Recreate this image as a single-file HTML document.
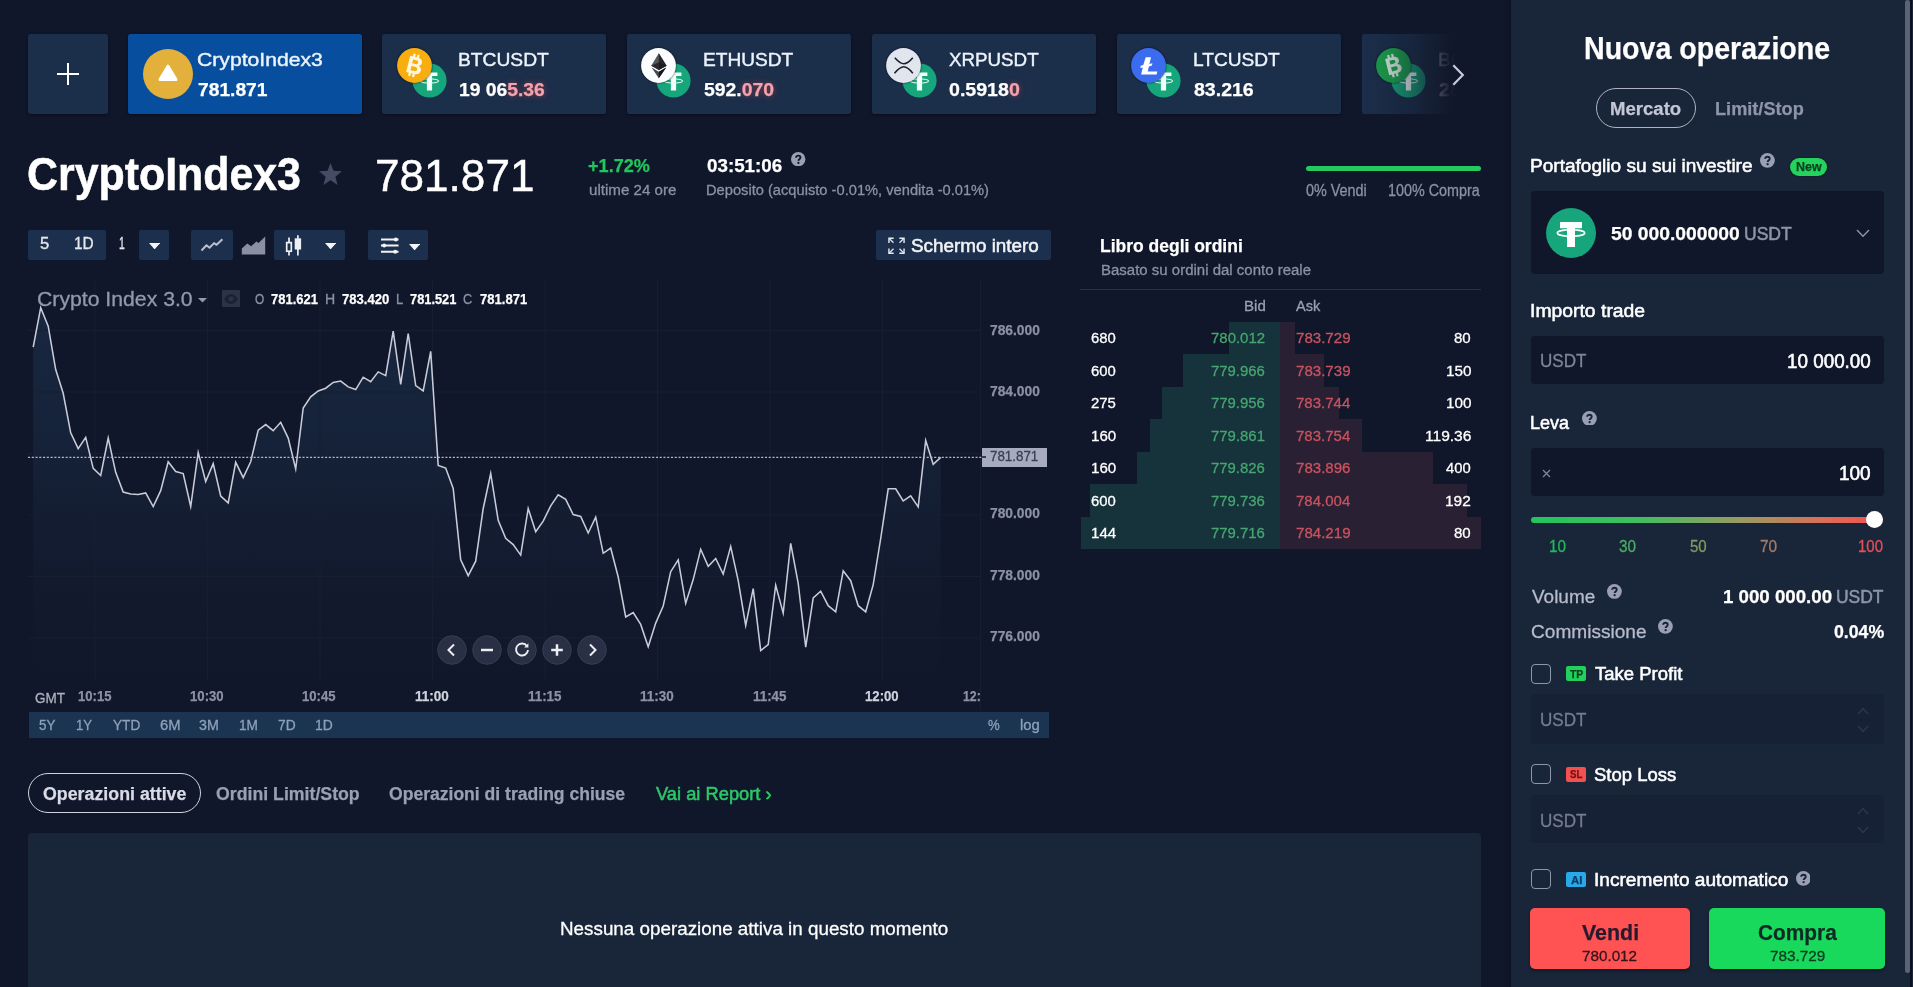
<!DOCTYPE html>
<html><head><meta charset="utf-8"><title>Trading</title><style>html,body{margin:0;padding:0;background:#11172a;overflow:hidden}
#p{position:relative;width:1913px;height:987px;overflow:hidden;background:#11172a;font-family:"Liberation Sans",sans-serif}
.t{position:absolute;white-space:pre;line-height:1;transform-origin:0 0}
.r{position:absolute;display:block}
</style></head><body><div id="p">
<div class="r" style="left:28px;top:34px;width:80px;height:80.2px;background:#1b2e4a;border-radius:2.5px;box-shadow:0 1px 3px rgba(0,4,18,.55);"></div>
<div class="r" style="left:56.5px;top:72.75px;width:22px;height:2px;background:#fff;border-radius:0px;"></div>
<div class="r" style="left:66.5px;top:62.75px;width:2px;height:22px;background:#fff;border-radius:0px;"></div>
<div class="r" style="left:128px;top:34px;width:233.5px;height:80.2px;background:#074f9e;border-radius:2.5px;box-shadow:0 1px 3px rgba(0,4,18,.55);"></div>
<svg class="r" style="left:142.5px;top:48.75px" width="50" height="50" viewBox="0 0 50 50"><circle cx="25" cy="25" r="25" fill="#e4b03c"/><path d="M25 17.2L33 30.6H17z" fill="#fff" stroke="#fff" stroke-width="3" stroke-linejoin="round"/></svg>
<span class="t" style="left:197.29px;top:50.00px;font-size:19.0px;font-weight:400;color:#edf3fb;transform:scaleX(1.1129);-webkit-text-stroke:0.42px;">CryptoIndex3</span>
<span class="t" style="left:197.78px;top:81.00px;font-size:18.8px;font-weight:700;color:#fff;transform:scaleX(1.0234);-webkit-text-stroke:0.25px;">781.871</span>
<div class="r" style="left:382px;top:34px;width:224px;height:80.2px;background:#1b2e4a;border-radius:2.5px;box-shadow:0 1px 3px rgba(0,4,18,.55);"></div>
<svg class="r" style="left:411.75px;top:62.5px;opacity:1" width="35.0" height="35.0" viewBox="0 0 35 35"><circle cx="17.5" cy="17.5" r="17.1" fill="#17a67b"/><path d="M9.6 9.6h15.8v3.5h-5.3v14.400h-5.200V13.100H9.600z" fill="#f4fffb"/><ellipse cx="17.5" cy="18" rx="9.300" ry="2.100" fill="none" stroke="#e9fff7" stroke-width="1"/></svg>
<svg class="r" style="left:397.0px;top:47.5px;opacity:1;filter:drop-shadow(0 0 1.2px rgba(5,10,20,.8))" width="35.0" height="35.0" viewBox="0 0 35 35"><circle cx="17.5" cy="17.5" r="17.4" fill="#f8ad10"/><g transform="rotate(14 17.5 17.5) translate(17.5 17.5) scale(1.17) translate(-17.8 -16.8)" fill="#fff6dc"><path d="M12.2 9.6h6.6c2.9 0 4.6 1.4 4.6 3.6 0 1.5-.8 2.6-2.1 3.1 1.7.4 2.8 1.7 2.8 3.5 0 2.6-2 4.2-5.2 4.2h-6.7zM15.4 12.1v3.3h2.8c1.3 0 2-.6 2-1.7s-.7-1.6-2-1.6zM15.4 17.8v3.7h3.2c1.4 0 2.2-.7 2.2-1.9s-.8-1.8-2.2-1.8z"/><rect x="14.6" y="7" width="1.9" height="3.2"/><rect x="18" y="7" width="1.9" height="3.2"/><rect x="14.6" y="23.4" width="1.9" height="3.2"/><rect x="18" y="23.4" width="1.9" height="3.2"/></g></svg>
<span class="t" style="left:458.31px;top:50.00px;font-size:19.0px;font-weight:400;color:#edf3fb;transform:scaleX(1.0116);-webkit-text-stroke:0.42px;">BTCUSDT</span>
<span class="t" style="left:458.89px;top:81.00px;font-size:18.8px;font-weight:700;color:#fff;transform:scaleX(1.0266);-webkit-text-stroke:0.25px;">19 06<span style="color:#f4a3ac;text-shadow:0 0 6px rgba(240,80,90,.55);">5.36</span></span>
<div class="r" style="left:626.75px;top:34px;width:224.25px;height:80.2px;background:#1b2e4a;border-radius:2.5px;box-shadow:0 1px 3px rgba(0,4,18,.55);"></div>
<svg class="r" style="left:656.25px;top:62.5px;opacity:1" width="35.0" height="35.0" viewBox="0 0 35 35"><circle cx="17.5" cy="17.5" r="17.1" fill="#17a67b"/><path d="M9.6 9.6h15.8v3.5h-5.3v14.400h-5.200V13.100H9.600z" fill="#f4fffb"/><ellipse cx="17.5" cy="18" rx="9.300" ry="2.100" fill="none" stroke="#e9fff7" stroke-width="1"/></svg>
<svg class="r" style="left:641.25px;top:47.5px;filter:drop-shadow(0 0 1.2px rgba(5,10,20,.8))" width="35.0" height="35.0" viewBox="0 0 35 35"><circle cx="17.5" cy="17.5" r="17.4" fill="#fbfcfd"/><path d="M17.8 5.2L10.2 17.7l7.600 4.300 7.800-4.300z" fill="#55565a"/><path d="M17.800 5.200v16.800l7.800-4.300z" fill="#26272b"/><path d="M17.800 14.200l-7.600 3.500 7.600 4.300 7.800-4.300z" fill="#1b1b1f" opacity=".75"/><path d="M10.600 19.600l7.200 10.700 7.400-10.700-7.400 4.200z" fill="#4a4b50"/><path d="M17.800 30.300V23.800l7.400-4.200z" fill="#17171b"/></svg>
<span class="t" style="left:703.07px;top:50.00px;font-size:19.0px;font-weight:400;color:#edf3fb;transform:scaleX(1.0059);-webkit-text-stroke:0.42px;">ETHUSDT</span>
<span class="t" style="left:704.22px;top:81.00px;font-size:18.8px;font-weight:700;color:#fff;transform:scaleX(1.0323);-webkit-text-stroke:0.25px;">592.<span style="color:#f4a3ac;text-shadow:0 0 6px rgba(240,80,90,.55);">070</span></span>
<div class="r" style="left:872px;top:34px;width:224px;height:80.2px;background:#1b2e4a;border-radius:2.5px;box-shadow:0 1px 3px rgba(0,4,18,.55);"></div>
<svg class="r" style="left:901.75px;top:62.5px;opacity:1" width="35.0" height="35.0" viewBox="0 0 35 35"><circle cx="17.5" cy="17.5" r="17.1" fill="#17a67b"/><path d="M9.6 9.6h15.8v3.5h-5.3v14.400h-5.200V13.100H9.600z" fill="#f4fffb"/><ellipse cx="17.5" cy="18" rx="9.300" ry="2.100" fill="none" stroke="#e9fff7" stroke-width="1"/></svg>
<svg class="r" style="left:886.25px;top:47.5px;filter:drop-shadow(0 0 1.2px rgba(5,10,20,.8))" width="35.0" height="35.0" viewBox="0 0 35 35"><circle cx="17.5" cy="17.5" r="17.400" fill="#e1e5ed"/><path d="M8.800 9.800c3.400 3.800 5.800 6 9 6s5.800-2.200 9-6M8.500 25.200c3.400-4 6-6.400 9.300-6.400s5.800 2.400 9 6.400" fill="none" stroke="#1a1f2c" stroke-width="1.600"/></svg>
<span class="t" style="left:949.38px;top:50.00px;font-size:19.0px;font-weight:400;color:#edf3fb;transform:scaleX(0.9871);-webkit-text-stroke:0.42px;">XRPUSDT</span>
<span class="t" style="left:949.27px;top:81.00px;font-size:18.8px;font-weight:700;color:#fff;transform:scaleX(1.0428);-webkit-text-stroke:0.25px;">0.5918<span style="color:#f4a3ac;text-shadow:0 0 6px rgba(240,80,90,.55);">0</span></span>
<div class="r" style="left:1117px;top:34px;width:224.25px;height:80.2px;background:#1b2e4a;border-radius:2.5px;box-shadow:0 1px 3px rgba(0,4,18,.55);"></div>
<svg class="r" style="left:1146.25px;top:62.5px;opacity:1" width="35.0" height="35.0" viewBox="0 0 35 35"><circle cx="17.5" cy="17.5" r="17.1" fill="#17a67b"/><path d="M9.6 9.6h15.8v3.5h-5.3v14.400h-5.200V13.100H9.600z" fill="#f4fffb"/><ellipse cx="17.5" cy="18" rx="9.300" ry="2.100" fill="none" stroke="#e9fff7" stroke-width="1"/></svg>
<svg class="r" style="left:1131.25px;top:47.5px;filter:drop-shadow(0 0 1.2px rgba(5,10,20,.8))" width="35.0" height="35.0" viewBox="0 0 35 35"><circle cx="17.5" cy="17.500" r="17.400" fill="#3b6cf0"/><path d="M14.700 9.200h5.300l-1.600 6.900 3-.8-.5 2.300-3 .800-1.200 5h9.600l-.7 3.200H10.100l1.700-7.200-2.500.7.500-2.300 2.500-.7z" fill="#fff"/></svg>
<span class="t" style="left:1193.32px;top:50.00px;font-size:19.0px;font-weight:400;color:#edf3fb;transform:scaleX(1.0063);-webkit-text-stroke:0.42px;">LTCUSDT</span>
<span class="t" style="left:1194.46px;top:81.00px;font-size:18.8px;font-weight:700;color:#fff;transform:scaleX(1.0399);-webkit-text-stroke:0.25px;">83.216</span>
<div class="r" style="left:1361.5px;top:34px;width:120px;height:80.2px;background:#1b2e4a;border-radius:2.5px;"></div>
<svg class="r" style="left:1391.25px;top:62.5px;opacity:1" width="35.0" height="35.0" viewBox="0 0 35 35"><circle cx="17.5" cy="17.5" r="17.1" fill="#17a67b"/><path d="M9.6 9.6h15.8v3.5h-5.3v14.400h-5.200V13.100H9.600z" fill="#f4fffb"/><ellipse cx="17.5" cy="18" rx="9.300" ry="2.100" fill="none" stroke="#e9fff7" stroke-width="1"/></svg>
<svg class="r" style="left:1376.25px;top:47.5px;opacity:1;filter:drop-shadow(0 0 1.2px rgba(5,10,20,.8))" width="35.0" height="35.0" viewBox="0 0 35 35"><circle cx="17.5" cy="17.5" r="17.4" fill="#1ba34d"/><g transform="rotate(-14 17.5 17.5) translate(17.5 17.5) scale(1.17) translate(-17.8 -16.8)" fill="#d9efe0"><path d="M12.2 9.6h6.6c2.9 0 4.6 1.4 4.6 3.6 0 1.5-.8 2.6-2.1 3.1 1.7.4 2.8 1.7 2.8 3.5 0 2.6-2 4.2-5.2 4.2h-6.7zM15.4 12.1v3.3h2.8c1.3 0 2-.6 2-1.7s-.7-1.6-2-1.6zM15.4 17.8v3.7h3.2c1.4 0 2.2-.7 2.2-1.9s-.8-1.8-2.2-1.8z"/><rect x="14.6" y="7" width="1.9" height="3.2"/><rect x="18" y="7" width="1.9" height="3.2"/><rect x="14.6" y="23.4" width="1.9" height="3.2"/><rect x="18" y="23.4" width="1.9" height="3.2"/></g></svg>
<span class="t" style="left:1438.06px;top:50.00px;font-size:19.0px;font-weight:400;color:#eef0f5;transform:scaleX(1.0148);-webkit-text-stroke:0.3px;">BCHUSDT</span>
<span class="t" style="left:1438.91px;top:81.00px;font-size:18.8px;font-weight:700;color:#fff;transform:scaleX(1.0445);-webkit-text-stroke:0.25px;">284.54</span>
<div class="r" style="left:1361px;top:30px;width:150px;height:90px;background:linear-gradient(90deg,rgba(17,23,42,0) 0,rgba(17,23,42,.2) 30px,rgba(17,23,42,.45) 55px,rgba(17,23,42,.76) 76px,rgba(17,23,42,.97) 89px,#11172a 97px);border-radius:0px;"></div>
<svg class="r" style="left:1450px;top:62.5px" width="16" height="24" viewBox="0 0 16 24"><path d="M3.300 2.300l9.500 9.700-9.500 9.700" fill="none" stroke="#c6cadc" stroke-width="2.200"/></svg>
<span class="t" style="left:27.24px;top:151.00px;font-size:46.5px;font-weight:700;color:#fff;transform:scaleX(0.9219);-webkit-text-stroke:0.55px #fff;">CryptoIndex3</span>
<svg class="r" style="left:319px;top:162.5px" width="23" height="22" viewBox="0 0 24 23"><path d="M12 0l3.1 8.2 8.9.5-6.9 5.6 2.3 8.7L12 18.1 4.6 23l2.3-8.7L0 8.7l8.9-.5z" fill="#454b62"/></svg>
<span class="t" style="left:375.14px;top:154.00px;font-size:44.5px;font-weight:400;color:#fff;transform:scaleX(0.9914);-webkit-text-stroke:0.45px #fff;">781.871</span>
<span class="t" style="left:588.38px;top:157.00px;font-size:18.8px;font-weight:700;color:#22c65e;transform:scaleX(0.9639);-webkit-text-stroke:0.25px;">+1.72%</span>
<span class="t" style="left:588.62px;top:182.00px;font-size:15.5px;font-weight:400;color:#8b91a6;transform:scaleX(0.9763);-webkit-text-stroke:0.3px;">ultime 24 ore</span>
<span class="t" style="left:706.60px;top:157.00px;font-size:18.8px;font-weight:700;color:#fff;transform:scaleX(1.0001);-webkit-text-stroke:0.25px;">03:51:06</span>
<svg class="r" style="left:791.3px;top:152.05px" width="14.4" height="14.4" viewBox="0 0 16 16"><circle cx="8" cy="8" r="8" fill="#999fb4"/><path d="M5.6 6.3c0-1.4 1.1-2.3 2.5-2.3s2.4.9 2.4 2.1c0 1.9-2.2 1.9-2.2 3.6" fill="none" stroke="#11172a" stroke-width="2.1"/><circle cx="8.250" cy="12.100" r="1.250" fill="#11172a"/></svg>
<span class="t" style="left:706.18px;top:182.00px;font-size:15.5px;font-weight:400;color:#8b91a6;transform:scaleX(0.9466);-webkit-text-stroke:0.3px;">Deposito (acquisto -0.01%, vendita -0.01%)</span>
<div class="r" style="left:1305.75px;top:165.75px;width:175px;height:5.5px;background:#25c95f;border-radius:3px;"></div>
<span class="t" style="left:1306.02px;top:183.00px;font-size:15.8px;font-weight:400;color:#8b91a6;transform:scaleX(0.9110);-webkit-text-stroke:0.3px;">0% Vendi</span>
<span class="t" style="left:1388.02px;top:183.00px;font-size:15.8px;font-weight:400;color:#8b91a6;transform:scaleX(0.9075);-webkit-text-stroke:0.3px;">100% Compra</span>
<div class="r" style="left:28px;top:230px;width:78.3px;height:29.5px;background:#1c304d;border-radius:2px;"></div>
<span class="t" style="left:39.68px;top:236.00px;font-size:15.6px;font-weight:400;color:#e6e8ef;transform:scaleX(1.0661);-webkit-text-stroke:0.3px;">5</span>
<span class="t" style="left:73.69px;top:236.00px;font-size:15.6px;font-weight:400;color:#e6e8ef;transform:scaleX(0.9879);-webkit-text-stroke:0.3px;">1D</span>
<span class="t" style="left:118.97px;top:236.00px;font-size:15.6px;font-weight:400;color:#e6e8ef;transform:scaleX(0.6631);-webkit-text-stroke:0.3px;">1</span>
<div class="r" style="left:138.75px;top:230px;width:30.5px;height:29.5px;background:#1c304d;border-radius:2px;"></div>
<svg class="r" style="left:148.8px;top:242.5px" width="11.2" height="6.4" viewBox="0 0 11.2 6.4"><path d="M0 0h11.2L5.6 6.4z" fill="#f4f5f9"/></svg>
<div class="r" style="left:190.75px;top:230px;width:42.3px;height:29.5px;background:#1c304d;border-radius:2px;"></div>
<svg class="r" style="left:200px;top:236px" width="24" height="18" viewBox="0 0 24 18"><path d="M1.5 14.5l5-5.2 3 2.4 4.5-4.6 2.6 1.7 5.8-5.6" fill="none" stroke="#b9bece" stroke-width="2" stroke-linejoin="round"/></svg>
<svg class="r" style="left:241px;top:235px" width="25" height="20" viewBox="0 0 25 20"><path d="M.8 19.5V13.6l5.6-5 3.6 2.6 5.4-4.6 2.2 1.4 6.6-6.4v17.9z" fill="#8a8fa3"/></svg>
<div class="r" style="left:273.75px;top:230px;width:70.8px;height:29.5px;background:#1c304d;border-radius:2px;"></div>
<svg class="r" style="left:285.4px;top:234.8px" width="18" height="21" viewBox="0 0 18 21"><g fill="none" stroke="#eef0f5" stroke-width="1.7"><path d="M4 2.400v5M4 16.200v4.400M12.900 .3v3.400M12.900 14v6.500"/><rect x="1.700" y="7.600" width="4.600" height="8.600"/></g><rect x="9.700" y="3.300" width="6.400" height="11.200" fill="#eef0f5"/></svg>
<svg class="r" style="left:324.9px;top:242.8px" width="11.2" height="6.4" viewBox="0 0 11.2 6.4"><path d="M0 0h11.2L5.6 6.4z" fill="#f4f5f9"/></svg>
<div class="r" style="left:367.5px;top:230px;width:60.3px;height:29.5px;background:#1c304d;border-radius:2px;"></div>
<svg class="r" style="left:380px;top:235.5px" width="20" height="19" viewBox="0 0 20 19"><g stroke="#f2f3f7" stroke-width="2" fill="none"><path d="M1 3.500h17.500M1 9.600h17.500M1 15.700h17.500"/></g><g fill="#f2f3f7"><circle cx="15.800" cy="3.500" r="2"/><circle cx="4.200" cy="9.600" r="2"/><circle cx="15.200" cy="15.700" r="2"/></g></svg>
<svg class="r" style="left:408.79999999999995px;top:243.8px" width="11.2" height="6.4" viewBox="0 0 11.2 6.4"><path d="M0 0h11.2L5.6 6.4z" fill="#f4f5f9"/></svg>
<div class="r" style="left:876.25px;top:230px;width:174.5px;height:29.5px;background:#1c304d;border-radius:2px;"></div>
<svg class="r" style="left:887.7px;top:237.3px" width="17" height="17.500" viewBox="0 0 18 18"><g fill="none" stroke="#e6e8ef" stroke-width="1.5"><path d="M1 6V1h5M12 1h5v5M17 12v5h-5M6 17H1v-5"/><path d="M1.6 1.6l4.2 4.2M16.4 1.6l-4.2 4.2M16.4 16.4l-4.2-4.2M1.6 16.4l4.2-4.2" stroke-width="1.3"/></g></svg>
<span class="t" style="left:911.25px;top:237.00px;font-size:18.9px;font-weight:400;color:#f2f3f7;transform:scaleX(0.9981);-webkit-text-stroke:0.55px;">Schermo intero</span>
<svg class="r" style="left:0;top:0" width="1060" height="720" viewBox="0 0 1060 720"><defs><linearGradient id="ag" gradientUnits="userSpaceOnUse" x1="0" y1="307" x2="0" y2="686"><stop offset="0" stop-color="#1d3552" stop-opacity=".55"/><stop offset=".25" stop-color="#1d3552" stop-opacity=".43"/><stop offset=".4" stop-color="#1d3552" stop-opacity=".33"/><stop offset=".56" stop-color="#1d3552" stop-opacity=".2"/><stop offset=".72" stop-color="#1d3552" stop-opacity=".1"/><stop offset=".88" stop-color="#1d3552" stop-opacity=".04"/><stop offset="1" stop-color="#1d3552" stop-opacity="0"/></linearGradient></defs><path d="M33.2,686 L33.2,347.2 L40.7,307.7 L48.2,326.1 L55.7,369.6 L63.2,393.3 L70.7,432.8 L78.2,448.6 L85.7,437.3 L93.2,468.4 L100.7,475.5 L108.2,438.0 L115.7,472.3 L123.2,492.0 L130.7,493.9 L138.2,494.4 L145.7,492.9 L153.2,506.5 L160.7,490.7 L168.2,461.8 L175.7,471.5 L183.2,473.6 L190.7,506.5 L198.2,452.5 L205.7,481.5 L213.2,463.6 L220.7,496.0 L228.2,502.9 L235.7,462.3 L243.2,477.6 L250.7,461.8 L258.2,430.2 L265.7,424.6 L273.2,430.7 L280.7,422.3 L288.2,438.1 L295.7,469.0 L303.2,408.0 L310.7,396.9 L318.2,390.9 L325.7,388.2 L333.2,382.5 L340.7,381.1 L348.2,386.9 L355.7,389.6 L363.2,377.2 L370.7,381.7 L378.2,371.9 L385.7,375.6 L393.2,331.1 L400.7,384.3 L408.2,333.5 L415.7,385.6 L423.2,390.9 L430.7,351.4 L438.2,465.4 L445.7,468.1 L453.2,488.4 L460.7,559.9 L468.2,575.7 L475.7,561.2 L483.2,508.5 L490.7,473.5 L498.2,520.3 L505.7,538.3 L513.2,544.6 L520.7,555.1 L528.2,508.5 L535.7,531.7 L543.2,521.1 L550.7,505.9 L558.2,494.8 L565.7,499.3 L573.2,514.6 L580.7,516.4 L588.2,533.0 L595.7,517.2 L603.2,553.3 L610.7,548.0 L618.2,577.0 L625.7,617.0 L633.2,612.6 L640.7,624.4 L648.2,646.8 L655.7,623.1 L663.2,606.0 L670.7,571.7 L678.2,559.9 L685.7,603.3 L693.2,579.6 L700.7,549.3 L708.2,566.4 L715.7,558.5 L723.2,574.1 L730.7,546.4 L738.2,580.7 L745.7,625.5 L753.2,588.6 L760.7,650.5 L768.2,644.7 L775.7,585.2 L783.2,613.1 L790.7,543.3 L798.2,583.3 L805.7,647.1 L813.2,597.8 L820.7,591.2 L828.2,605.7 L835.7,611.8 L843.2,570.9 L850.7,580.7 L858.2,605.7 L865.7,611.8 L873.2,584.6 L880.7,538.5 L888.2,488.8 L895.7,488.8 L903.2,500.9 L910.7,495.9 L918.2,506.9 L925.7,440.5 L933.2,464.3 L940.7,457.4 L940.7,686 Z" fill="url(#ag)"/><path d="M95 280V681" stroke="#171e33" stroke-width="1"/><path d="M207.5 280V681" stroke="#171e33" stroke-width="1"/><path d="M320 280V681" stroke="#171e33" stroke-width="1"/><path d="M432.5 280V681" stroke="#171e33" stroke-width="1"/><path d="M545 280V681" stroke="#171e33" stroke-width="1"/><path d="M657.5 280V681" stroke="#171e33" stroke-width="1"/><path d="M770 280V681" stroke="#171e33" stroke-width="1"/><path d="M882.5 280V681" stroke="#171e33" stroke-width="1"/><path d="M28 330.5H980" stroke="#171e33" stroke-width="1"/><path d="M28 392H980" stroke="#171e33" stroke-width="1"/><path d="M28 453.5H980" stroke="#171e33" stroke-width="1"/><path d="M28 515H980" stroke="#171e33" stroke-width="1"/><path d="M28 576.5H980" stroke="#171e33" stroke-width="1"/><path d="M28 638H980" stroke="#171e33" stroke-width="1"/><path d="M980.5 280V710" stroke="#171e33" stroke-width="1"/><polyline points="33.2,347.2 40.7,307.7 48.2,326.1 55.7,369.6 63.2,393.3 70.7,432.8 78.2,448.6 85.7,437.3 93.2,468.4 100.7,475.5 108.2,438.0 115.7,472.3 123.2,492.0 130.7,493.9 138.2,494.4 145.7,492.9 153.2,506.5 160.7,490.7 168.2,461.8 175.7,471.5 183.2,473.6 190.7,506.5 198.2,452.5 205.7,481.5 213.2,463.6 220.7,496.0 228.2,502.9 235.7,462.3 243.2,477.6 250.7,461.8 258.2,430.2 265.7,424.6 273.2,430.7 280.7,422.3 288.2,438.1 295.7,469.0 303.2,408.0 310.7,396.9 318.2,390.9 325.7,388.2 333.2,382.5 340.7,381.1 348.2,386.9 355.7,389.6 363.2,377.2 370.7,381.7 378.2,371.9 385.7,375.6 393.2,331.1 400.7,384.3 408.2,333.5 415.7,385.6 423.2,390.9 430.7,351.4 438.2,465.4 445.7,468.1 453.2,488.4 460.7,559.9 468.2,575.7 475.7,561.2 483.2,508.5 490.7,473.5 498.2,520.3 505.7,538.3 513.2,544.6 520.7,555.1 528.2,508.5 535.7,531.7 543.2,521.1 550.7,505.9 558.2,494.8 565.7,499.3 573.2,514.6 580.7,516.4 588.2,533.0 595.7,517.2 603.2,553.3 610.7,548.0 618.2,577.0 625.7,617.0 633.2,612.6 640.7,624.4 648.2,646.8 655.7,623.1 663.2,606.0 670.7,571.7 678.2,559.9 685.7,603.3 693.2,579.6 700.7,549.3 708.2,566.4 715.7,558.5 723.2,574.1 730.7,546.4 738.2,580.7 745.7,625.5 753.2,588.6 760.7,650.5 768.2,644.7 775.7,585.2 783.2,613.1 790.7,543.3 798.2,583.3 805.7,647.1 813.2,597.8 820.7,591.2 828.2,605.7 835.7,611.8 843.2,570.9 850.7,580.7 858.2,605.7 865.7,611.8 873.2,584.6 880.7,538.5 888.2,488.8 895.7,488.8 903.2,500.9 910.7,495.9 918.2,506.9 925.7,440.5 933.2,464.3 940.7,457.4" fill="none" stroke="#c8ccd8" stroke-width="1.55" stroke-linejoin="miter" stroke-miterlimit="6"/><path d="M28 457.3H986" stroke="#b2b6c6" stroke-width="1.3" stroke-dasharray="2.1 1.66"/></svg>
<span class="t" style="left:37.29px;top:289.00px;font-size:20.6px;font-weight:400;color:#9399ad;transform:scaleX(1.0298);-webkit-text-stroke:0.3px;">Crypto Index 3.0</span>
<svg class="r" style="left:198.0px;top:298.35px" width="9" height="4.5" viewBox="0 0 9 4.5"><path d="M0 0h9L4.5 4.5z" fill="#9399ad"/></svg>
<div class="r" style="left:221.75px;top:290px;width:18.3px;height:17px;background:#2b3348;border-radius:1px;"></div>
<svg class="r" style="left:224px;top:293.5px" width="14" height="10" viewBox="0 0 14 10"><path d="M0 5C2 1.6 4.4 0 7 0s5 1.6 7 5c-2 3.4-4.400 5-7 5S2 8.400 0 5z" fill="#1b2236"/><circle cx="7" cy="5" r="2.4" fill="#2b3348"/></svg>
<span class="t" style="left:254.82px;top:292.00px;font-size:14.3px;font-weight:400;color:#8b91a6;transform:scaleX(0.8269);-webkit-text-stroke:0.3px;">O</span>
<span class="t" style="left:271.08px;top:292.00px;font-size:14.3px;font-weight:700;color:#fff;transform:scaleX(0.9071);-webkit-text-stroke:0.25px;">781.621</span>
<span class="t" style="left:324.97px;top:292.00px;font-size:14.3px;font-weight:400;color:#8b91a6;transform:scaleX(0.9865);-webkit-text-stroke:0.3px;">H</span>
<span class="t" style="left:341.58px;top:292.00px;font-size:14.3px;font-weight:700;color:#fff;transform:scaleX(0.9159);-webkit-text-stroke:0.25px;">783.420</span>
<span class="t" style="left:395.56px;top:292.00px;font-size:14.3px;font-weight:400;color:#8b91a6;transform:scaleX(0.9114);-webkit-text-stroke:0.3px;">L</span>
<span class="t" style="left:409.84px;top:292.00px;font-size:14.3px;font-weight:700;color:#fff;transform:scaleX(0.8973);-webkit-text-stroke:0.25px;">781.521</span>
<span class="t" style="left:463.46px;top:292.00px;font-size:14.3px;font-weight:400;color:#8b91a6;transform:scaleX(0.8920);-webkit-text-stroke:0.3px;">C</span>
<span class="t" style="left:479.83px;top:292.00px;font-size:14.3px;font-weight:700;color:#fff;transform:scaleX(0.9120);-webkit-text-stroke:0.25px;">781.871</span>
<span class="t" style="left:989.80px;top:323.00px;font-size:14.3px;font-weight:700;color:#8c91a4;transform:scaleX(0.9654);-webkit-text-stroke:0.25px;">786.000</span>
<span class="t" style="left:989.80px;top:384.00px;font-size:14.3px;font-weight:700;color:#8c91a4;transform:scaleX(0.9654);-webkit-text-stroke:0.25px;">784.000</span>
<span class="t" style="left:989.80px;top:506.00px;font-size:14.3px;font-weight:700;color:#8c91a4;transform:scaleX(0.9654);-webkit-text-stroke:0.25px;">780.000</span>
<span class="t" style="left:989.80px;top:568.00px;font-size:14.3px;font-weight:700;color:#8c91a4;transform:scaleX(0.9654);-webkit-text-stroke:0.25px;">778.000</span>
<span class="t" style="left:989.80px;top:629.00px;font-size:14.3px;font-weight:700;color:#8c91a4;transform:scaleX(0.9654);-webkit-text-stroke:0.25px;">776.000</span>
<div class="r" style="left:982.4px;top:448px;width:64.3px;height:19.3px;background:#a6abc0;border-radius:0px;"></div>
<div class="r" style="left:982.4px;top:456.4px;width:3.5px;height:1.2px;background:#3a3f53;border-radius:0px;"></div>
<span class="t" style="left:990.38px;top:449.00px;font-size:14.3px;font-weight:400;color:#3a3f53;transform:scaleX(0.9337);-webkit-text-stroke:0.3px;">781.871</span>
<span class="t" style="left:35.42px;top:690.00px;font-size:15px;font-weight:400;color:#aeb2bf;transform:scaleX(0.9008);-webkit-text-stroke:0.3px;">GMT</span>
<span class="t" style="left:77.82px;top:689.00px;font-size:14.3px;font-weight:700;color:#8d92a5;transform:scaleX(0.9145);-webkit-text-stroke:0.25px;">10:15</span>
<span class="t" style="left:190.06px;top:689.00px;font-size:14.3px;font-weight:700;color:#8d92a5;transform:scaleX(0.9201);-webkit-text-stroke:0.25px;">10:30</span>
<span class="t" style="left:302.27px;top:689.00px;font-size:14.3px;font-weight:700;color:#8d92a5;transform:scaleX(0.9145);-webkit-text-stroke:0.25px;">10:45</span>
<span class="t" style="left:415.04px;top:689.00px;font-size:14.3px;font-weight:700;color:#cfd2dc;transform:scaleX(0.9411);-webkit-text-stroke:0.25px;">11:00</span>
<span class="t" style="left:527.80px;top:689.00px;font-size:14.3px;font-weight:700;color:#8d92a5;transform:scaleX(0.9353);-webkit-text-stroke:0.25px;">11:15</span>
<span class="t" style="left:640.29px;top:689.00px;font-size:14.3px;font-weight:700;color:#8d92a5;transform:scaleX(0.9411);-webkit-text-stroke:0.25px;">11:30</span>
<span class="t" style="left:752.80px;top:689.00px;font-size:14.3px;font-weight:700;color:#8d92a5;transform:scaleX(0.9353);-webkit-text-stroke:0.25px;">11:45</span>
<span class="t" style="left:865.06px;top:689.00px;font-size:14.3px;font-weight:700;color:#cfd2dc;transform:scaleX(0.9201);-webkit-text-stroke:0.25px;">12:00</span>
<span class="t" style="left:963.11px;top:689.00px;font-size:14.3px;font-weight:700;color:#8d92a5;transform:scaleX(0.8598);-webkit-text-stroke:0.25px;">12:</span>
<div class="r" style="left:29px;top:712.2px;width:1020px;height:26.2px;background:#1b3451;border-radius:0px;"></div>
<span class="t" style="left:39.31px;top:718.00px;font-size:14.2px;font-weight:400;color:#8ea0ba;transform:scaleX(0.9440);-webkit-text-stroke:0.3px;">5Y</span>
<span class="t" style="left:76.36px;top:718.00px;font-size:14.2px;font-weight:400;color:#8ea0ba;transform:scaleX(0.9264);-webkit-text-stroke:0.3px;">1Y</span>
<span class="t" style="left:113.01px;top:718.00px;font-size:14.2px;font-weight:400;color:#8ea0ba;transform:scaleX(0.9596);-webkit-text-stroke:0.3px;">YTD</span>
<span class="t" style="left:159.61px;top:718.00px;font-size:14.2px;font-weight:400;color:#8ea0ba;transform:scaleX(1.0409);-webkit-text-stroke:0.3px;">6M</span>
<span class="t" style="left:199.28px;top:718.00px;font-size:14.2px;font-weight:400;color:#8ea0ba;transform:scaleX(1.0048);-webkit-text-stroke:0.3px;">3M</span>
<span class="t" style="left:238.83px;top:718.00px;font-size:14.2px;font-weight:400;color:#8ea0ba;transform:scaleX(0.9619);-webkit-text-stroke:0.3px;">1M</span>
<span class="t" style="left:277.66px;top:718.00px;font-size:14.2px;font-weight:400;color:#8ea0ba;transform:scaleX(0.9728);-webkit-text-stroke:0.3px;">7D</span>
<span class="t" style="left:315.06px;top:718.00px;font-size:14.2px;font-weight:400;color:#8ea0ba;transform:scaleX(0.9786);-webkit-text-stroke:0.3px;">1D</span>
<span class="t" style="left:988.39px;top:718.00px;font-size:14.2px;font-weight:400;color:#8ea0ba;transform:scaleX(0.9275);-webkit-text-stroke:0.3px;">%</span>
<span class="t" style="left:1020.39px;top:718.00px;font-size:14.2px;font-weight:400;color:#8ea0ba;transform:scaleX(1.0403);-webkit-text-stroke:0.3px;">log</span>
<svg class="r" style="left:436.75px;top:635px" width="30" height="30" viewBox="0 0 30 30"><circle cx="15" cy="15" r="14.300" fill="#292f44" stroke="#363d54" stroke-width="1"/><path d="M17 9.5L11.5 15l5.500 5.500" fill="none" stroke="#eceef3" stroke-width="2"/></svg>
<svg class="r" style="left:471.75px;top:635px" width="30" height="30" viewBox="0 0 30 30"><circle cx="15" cy="15" r="14.300" fill="#292f44" stroke="#363d54" stroke-width="1"/><path d="M9 15h12" stroke="#eceef3" stroke-width="2.500"/></svg>
<svg class="r" style="left:506.75px;top:635px" width="30" height="30" viewBox="0 0 30 30"><circle cx="15" cy="15" r="14.300" fill="#292f44" stroke="#363d54" stroke-width="1"/><path d="M20 11.200A6 6 0 1 0 21 15" fill="none" stroke="#eceef3" stroke-width="1.900"/><path d="M21.400 8.300v4.200h-4.200z" fill="#eceef3"/></svg>
<svg class="r" style="left:541.75px;top:635px" width="30" height="30" viewBox="0 0 30 30"><circle cx="15" cy="15" r="14.300" fill="#292f44" stroke="#363d54" stroke-width="1"/><path d="M9.200 15h11.600M15 9.200v11.600" stroke="#eceef3" stroke-width="2.500"/></svg>
<svg class="r" style="left:576.75px;top:635px" width="30" height="30" viewBox="0 0 30 30"><circle cx="15" cy="15" r="14.300" fill="#292f44" stroke="#363d54" stroke-width="1"/><path d="M13 9.500l5.500 5.500-5.500 5.500" fill="none" stroke="#eceef3" stroke-width="2"/></svg>
<span class="t" style="left:1100.46px;top:237.00px;font-size:18.7px;font-weight:700;color:#fff;transform:scaleX(0.9354);-webkit-text-stroke:0.25px;">Libro degli ordini</span>
<span class="t" style="left:1100.55px;top:262.00px;font-size:15.4px;font-weight:400;color:#8b91a6;transform:scaleX(0.9741);-webkit-text-stroke:0.3px;">Basato su ordini dal conto reale</span>
<div class="r" style="left:1080px;top:289px;width:401px;height:1px;background:#28314a;border-radius:0px;"></div>
<span class="t" style="left:1244.14px;top:298.00px;font-size:15.2px;font-weight:400;color:#9aa0b4;transform:scaleX(0.9919);-webkit-text-stroke:0.3px;">Bid</span>
<span class="t" style="left:1296.35px;top:298.00px;font-size:15.2px;font-weight:400;color:#9aa0b4;transform:scaleX(0.9602);-webkit-text-stroke:0.3px;">Ask</span>
<div class="r" style="left:1229px;top:322px;width:51px;height:32px;background:#16323a;border-radius:0px;"></div>
<div class="r" style="left:1280px;top:322px;width:15px;height:32px;background:#2a2033;border-radius:0px;"></div>
<div class="r" style="left:1183px;top:354px;width:97px;height:33px;background:#16323a;border-radius:0px;"></div>
<div class="r" style="left:1280px;top:354px;width:44px;height:33px;background:#2a2033;border-radius:0px;"></div>
<div class="r" style="left:1162px;top:387px;width:118px;height:32px;background:#16323a;border-radius:0px;"></div>
<div class="r" style="left:1280px;top:387px;width:59px;height:32px;background:#2a2033;border-radius:0px;"></div>
<div class="r" style="left:1150px;top:419px;width:130px;height:33px;background:#16323a;border-radius:0px;"></div>
<div class="r" style="left:1280px;top:419px;width:82px;height:33px;background:#2a2033;border-radius:0px;"></div>
<div class="r" style="left:1137px;top:452px;width:143px;height:32px;background:#16323a;border-radius:0px;"></div>
<div class="r" style="left:1280px;top:452px;width:153px;height:32px;background:#2a2033;border-radius:0px;"></div>
<div class="r" style="left:1090px;top:484px;width:190px;height:33px;background:#16323a;border-radius:0px;"></div>
<div class="r" style="left:1280px;top:484px;width:187px;height:33px;background:#2a2033;border-radius:0px;"></div>
<div class="r" style="left:1081px;top:517px;width:199px;height:32px;background:#16323a;border-radius:0px;"></div>
<div class="r" style="left:1280px;top:517px;width:201px;height:32px;background:#2a2033;border-radius:0px;"></div>
<span class="t" style="left:1091.21px;top:330.00px;font-size:15.3px;font-weight:400;color:#fff;transform:scaleX(0.9721);-webkit-text-stroke:0.3px;">680</span>
<span class="t" style="left:1211.35px;top:330.00px;font-size:15.3px;font-weight:400;color:#46a571;transform:scaleX(0.9771);-webkit-text-stroke:0.3px;">780.012</span>
<span class="t" style="left:1296.30px;top:330.00px;font-size:15.3px;font-weight:400;color:#c9535f;transform:scaleX(0.9860);-webkit-text-stroke:0.3px;">783.729</span>
<span class="t" style="left:1454.27px;top:330.00px;font-size:15.3px;font-weight:400;color:#fff;transform:scaleX(0.9836);-webkit-text-stroke:0.3px;">80</span>
<span class="t" style="left:1091.21px;top:363.00px;font-size:15.3px;font-weight:400;color:#fff;transform:scaleX(0.9721);-webkit-text-stroke:0.3px;">600</span>
<span class="t" style="left:1211.35px;top:363.00px;font-size:15.3px;font-weight:400;color:#46a571;transform:scaleX(0.9744);-webkit-text-stroke:0.3px;">779.966</span>
<span class="t" style="left:1296.30px;top:363.00px;font-size:15.3px;font-weight:400;color:#c9535f;transform:scaleX(0.9860);-webkit-text-stroke:0.3px;">783.739</span>
<span class="t" style="left:1445.50px;top:363.00px;font-size:15.3px;font-weight:400;color:#fff;transform:scaleX(1.0004);-webkit-text-stroke:0.3px;">150</span>
<span class="t" style="left:1091.20px;top:395.00px;font-size:15.3px;font-weight:400;color:#fff;transform:scaleX(0.9752);-webkit-text-stroke:0.3px;">275</span>
<span class="t" style="left:1211.35px;top:395.00px;font-size:15.3px;font-weight:400;color:#46a571;transform:scaleX(0.9744);-webkit-text-stroke:0.3px;">779.956</span>
<span class="t" style="left:1296.30px;top:395.00px;font-size:15.3px;font-weight:400;color:#c9535f;transform:scaleX(0.9818);-webkit-text-stroke:0.3px;">783.744</span>
<span class="t" style="left:1445.50px;top:395.00px;font-size:15.3px;font-weight:400;color:#fff;transform:scaleX(1.0004);-webkit-text-stroke:0.3px;">100</span>
<span class="t" style="left:1090.82px;top:428.00px;font-size:15.3px;font-weight:400;color:#fff;transform:scaleX(0.9877);-webkit-text-stroke:0.3px;">160</span>
<span class="t" style="left:1211.35px;top:428.00px;font-size:15.3px;font-weight:400;color:#46a571;transform:scaleX(0.9758);-webkit-text-stroke:0.3px;">779.861</span>
<span class="t" style="left:1296.30px;top:428.00px;font-size:15.3px;font-weight:400;color:#c9535f;transform:scaleX(0.9818);-webkit-text-stroke:0.3px;">783.754</span>
<span class="t" style="left:1424.68px;top:428.00px;font-size:15.3px;font-weight:400;color:#fff;transform:scaleX(1.0157);-webkit-text-stroke:0.3px;">119.36</span>
<span class="t" style="left:1090.82px;top:460.00px;font-size:15.3px;font-weight:400;color:#fff;transform:scaleX(0.9877);-webkit-text-stroke:0.3px;">160</span>
<span class="t" style="left:1211.35px;top:460.00px;font-size:15.3px;font-weight:400;color:#46a571;transform:scaleX(0.9744);-webkit-text-stroke:0.3px;">779.826</span>
<span class="t" style="left:1296.30px;top:460.00px;font-size:15.3px;font-weight:400;color:#c9535f;transform:scaleX(0.9846);-webkit-text-stroke:0.3px;">783.896</span>
<span class="t" style="left:1446.35px;top:460.00px;font-size:15.3px;font-weight:400;color:#fff;transform:scaleX(0.9662);-webkit-text-stroke:0.3px;">400</span>
<span class="t" style="left:1091.21px;top:493.00px;font-size:15.3px;font-weight:400;color:#fff;transform:scaleX(0.9721);-webkit-text-stroke:0.3px;">600</span>
<span class="t" style="left:1211.35px;top:493.00px;font-size:15.3px;font-weight:400;color:#46a571;transform:scaleX(0.9744);-webkit-text-stroke:0.3px;">779.736</span>
<span class="t" style="left:1296.30px;top:493.00px;font-size:15.3px;font-weight:400;color:#c9535f;transform:scaleX(0.9818);-webkit-text-stroke:0.3px;">784.004</span>
<span class="t" style="left:1445.49px;top:493.00px;font-size:15.3px;font-weight:400;color:#fff;transform:scaleX(1.0101);-webkit-text-stroke:0.3px;">192</span>
<span class="t" style="left:1090.82px;top:525.00px;font-size:15.3px;font-weight:400;color:#fff;transform:scaleX(0.9846);-webkit-text-stroke:0.3px;">144</span>
<span class="t" style="left:1211.35px;top:525.00px;font-size:15.3px;font-weight:400;color:#46a571;transform:scaleX(0.9744);-webkit-text-stroke:0.3px;">779.716</span>
<span class="t" style="left:1296.30px;top:525.00px;font-size:15.3px;font-weight:400;color:#c9535f;transform:scaleX(0.9860);-webkit-text-stroke:0.3px;">784.219</span>
<span class="t" style="left:1454.27px;top:525.00px;font-size:15.3px;font-weight:400;color:#fff;transform:scaleX(0.9836);-webkit-text-stroke:0.3px;">80</span>
<div class="r" style="left:28px;top:773px;width:172.5px;height:39.5px;background:transparent;border-radius:20px;border:1px solid #cfd3de;box-sizing:border-box;"></div>
<span class="t" style="left:42.64px;top:784.00px;font-size:19.1px;font-weight:700;color:#d9dce6;transform:scaleX(0.9320);-webkit-text-stroke:0.25px;">Operazioni attive</span>
<span class="t" style="left:215.89px;top:784.00px;font-size:19.1px;font-weight:700;color:#9aa0b4;transform:scaleX(0.9278);-webkit-text-stroke:0.25px;">Ordini Limit/Stop</span>
<span class="t" style="left:389.15px;top:784.00px;font-size:19.1px;font-weight:700;color:#9aa0b4;transform:scaleX(0.9195);-webkit-text-stroke:0.25px;">Operazioni di trading chiuse</span>
<span class="t" style="left:656.01px;top:784.00px;font-size:19.1px;font-weight:400;color:#2cc868;transform:scaleX(0.9586);-webkit-text-stroke:0.55px;">Vai ai Report ›</span>
<div class="r" style="left:28px;top:833px;width:1453px;height:160px;background:#192539;border-radius:4px;"></div>
<span class="t" style="left:560.09px;top:919.00px;font-size:19.1px;font-weight:400;color:#fff;transform:scaleX(0.9857);-webkit-text-stroke:0.3px;">Nessuna operazione attiva in questo momento</span>
<div class="r" style="left:1505px;top:0px;width:6px;height:987px;background:linear-gradient(90deg,rgba(8,11,26,0),rgba(8,11,26,.42));border-radius:0px;"></div>
<div class="r" style="left:1511px;top:0px;width:402px;height:987px;background:#192539;border-radius:0px;"></div>
<div class="r" style="left:1910px;top:0px;width:2px;height:987px;background:#0b0f22;border-radius:0px;"></div>
<div class="r" style="left:1904.7px;top:0px;width:5.3px;height:973px;background:#5c6278;border-radius:3px;"></div>
<span class="t" style="left:1583.99px;top:33.00px;font-size:31.2px;font-weight:700;color:#fff;transform:scaleX(0.9163);-webkit-text-stroke:0.25px;">Nuova operazione</span>
<div class="r" style="left:1595.75px;top:88px;width:100px;height:40px;background:transparent;border-radius:20px;border:1px solid #aeb3c4;box-sizing:border-box;"></div>
<span class="t" style="left:1609.89px;top:99.00px;font-size:19.1px;font-weight:700;color:#c3c7d5;transform:scaleX(0.9727);-webkit-text-stroke:0.25px;">Mercato</span>
<span class="t" style="left:1714.67px;top:99.00px;font-size:19.1px;font-weight:700;color:#8e94a9;transform:scaleX(0.9507);-webkit-text-stroke:0.25px;">Limit/Stop</span>
<span class="t" style="left:1530.07px;top:156.00px;font-size:19.2px;font-weight:400;color:#fff;transform:scaleX(0.9938);-webkit-text-stroke:0.55px;">Portafoglio su sui investire</span>
<svg class="r" style="left:1760.0px;top:153.1px" width="14.8" height="14.8" viewBox="0 0 16 16"><circle cx="8" cy="8" r="8" fill="#999fb4"/><path d="M5.6 6.3c0-1.4 1.1-2.3 2.5-2.3s2.4.9 2.4 2.1c0 1.9-2.2 1.9-2.2 3.6" fill="none" stroke="#1a2236" stroke-width="2.1"/><circle cx="8.250" cy="12.100" r="1.250" fill="#1a2236"/></svg>
<div class="r" style="left:1790px;top:157.7px;width:37.1px;height:18px;background:#23d35d;border-radius:9px;box-shadow:0 0 1.500px rgba(0,20,10,.9);"></div>
<span class="t" style="left:1795.54px;top:160.00px;font-size:13.3px;font-weight:700;color:#0b3f1f;transform:scaleX(0.9384);-webkit-text-stroke:0.25px;">New</span>
<div class="r" style="left:1531.25px;top:190.5px;width:352.25px;height:83.75px;background:#11172a;border-radius:4px;"></div>
<svg class="r" style="left:1545.75px;top:208px" width="50" height="50" viewBox="0 0 50 50"><circle cx="25" cy="25" r="25" fill="#17a67b"/><path d="M14 14h22v6.200h-7V39h-8V20.200h-7z" fill="#fff"/><ellipse cx="25" cy="25" rx="13.700" ry="3.200" fill="none" stroke="#fff" stroke-width="1.500"/></svg>
<span class="t" style="left:1610.52px;top:224.00px;font-size:19.1px;font-weight:700;color:#fff;transform:scaleX(1.0098);-webkit-text-stroke:0.25px;">50 000.000000</span>
<span class="t" style="left:1743.53px;top:224.00px;font-size:19.1px;font-weight:400;color:#8e94a9;transform:scaleX(0.9185);-webkit-text-stroke:0.55px;">USDT</span>
<svg class="r" style="left:1856px;top:228.500px" width="14" height="9" viewBox="0 0 14 9"><path d="M1 1l6 6.300L13 1" fill="none" stroke="#8e94a9" stroke-width="1.400"/></svg>
<span class="t" style="left:1529.86px;top:301.00px;font-size:19.2px;font-weight:400;color:#fff;transform:scaleX(1.0089);-webkit-text-stroke:0.55px;">Importo trade</span>
<div class="r" style="left:1531.25px;top:335.5px;width:352.25px;height:48.25px;background:#11172a;border-radius:4px;"></div>
<span class="t" style="left:1540.32px;top:351.00px;font-size:19.2px;font-weight:400;color:#7f859a;transform:scaleX(0.8889);-webkit-text-stroke:0.3px;">USDT</span>
<span class="t" style="left:1787.19px;top:352.00px;font-size:19.7px;font-weight:400;color:#fff;transform:scaleX(0.9567);-webkit-text-stroke:0.55px;">10 000.00</span>
<span class="t" style="left:1530.16px;top:413.00px;font-size:19.2px;font-weight:400;color:#fff;transform:scaleX(0.9380);-webkit-text-stroke:0.55px;">Leva</span>
<svg class="r" style="left:1581.85px;top:410.6px" width="14.8" height="14.8" viewBox="0 0 16 16"><circle cx="8" cy="8" r="8" fill="#999fb4"/><path d="M5.6 6.3c0-1.4 1.1-2.3 2.5-2.3s2.4.9 2.4 2.1c0 1.9-2.2 1.9-2.2 3.6" fill="none" stroke="#1a2236" stroke-width="2.1"/><circle cx="8.250" cy="12.100" r="1.250" fill="#1a2236"/></svg>
<div class="r" style="left:1531.25px;top:447.5px;width:352.25px;height:48.75px;background:#11172a;border-radius:4px;"></div>
<svg class="r" style="left:1541.5px;top:468.5px" width="9" height="9" viewBox="0 0 9 9"><path d="M1 1l7 7M8 1L1 8" stroke="#7f859a" stroke-width="1.300"/></svg>
<span class="t" style="left:1839.42px;top:464.00px;font-size:19.7px;font-weight:400;color:#fff;transform:scaleX(0.9646);-webkit-text-stroke:0.55px;">100</span>
<div class="r" style="left:1531.25px;top:516.5px;width:352px;height:6px;background:linear-gradient(90deg,#22c55e 0,#3fbf60 30%,#9a9a62 60%,#e06a58 85%,#f4504f 100%);border-radius:3px;"></div>
<div class="r" style="left:1865.7px;top:510.8px;width:17.4px;height:17.4px;background:#fff;border-radius:9px;"></div>
<span class="t" style="left:1548.70px;top:539.00px;font-size:16px;font-weight:400;color:#22b85e;transform:scaleX(0.9563);-webkit-text-stroke:0.3px;">10</span>
<span class="t" style="left:1618.99px;top:539.00px;font-size:16px;font-weight:400;color:#4aae62;transform:scaleX(0.9541);-webkit-text-stroke:0.3px;">30</span>
<span class="t" style="left:1690.25px;top:539.00px;font-size:16px;font-weight:400;color:#7f9c62;transform:scaleX(0.9390);-webkit-text-stroke:0.3px;">50</span>
<span class="t" style="left:1760.08px;top:539.00px;font-size:16px;font-weight:400;color:#a37c68;transform:scaleX(0.9634);-webkit-text-stroke:0.3px;">70</span>
<span class="t" style="left:1858.48px;top:539.00px;font-size:16px;font-weight:400;color:#e2505c;transform:scaleX(0.9365);-webkit-text-stroke:0.3px;">100</span>
<span class="t" style="left:1531.51px;top:587.00px;font-size:19.2px;font-weight:400;color:#b7bccb;transform:scaleX(0.9878);-webkit-text-stroke:0.3px;">Volume</span>
<svg class="r" style="left:1606.85px;top:584.35px" width="14.8" height="14.8" viewBox="0 0 16 16"><circle cx="8" cy="8" r="8" fill="#999fb4"/><path d="M5.6 6.3c0-1.4 1.1-2.3 2.5-2.3s2.4.9 2.4 2.1c0 1.9-2.2 1.9-2.2 3.6" fill="none" stroke="#1a2236" stroke-width="2.1"/><circle cx="8.250" cy="12.100" r="1.250" fill="#1a2236"/></svg>
<span class="t" style="left:1722.98px;top:587.00px;font-size:19.2px;font-weight:700;color:#fff;transform:scaleX(0.9736);-webkit-text-stroke:0.25px;">1 000 000.00</span>
<span class="t" style="left:1835.79px;top:587.00px;font-size:19.2px;font-weight:400;color:#8e94a9;transform:scaleX(0.9087);-webkit-text-stroke:0.55px;">USDT</span>
<span class="t" style="left:1530.65px;top:622.00px;font-size:19.2px;font-weight:400;color:#b7bccb;transform:scaleX(0.9945);-webkit-text-stroke:0.3px;">Commissione</span>
<svg class="r" style="left:1657.85px;top:619.35px" width="14.8" height="14.8" viewBox="0 0 16 16"><circle cx="8" cy="8" r="8" fill="#999fb4"/><path d="M5.6 6.3c0-1.4 1.1-2.3 2.5-2.3s2.4.9 2.4 2.1c0 1.9-2.2 1.9-2.2 3.6" fill="none" stroke="#1a2236" stroke-width="2.1"/><circle cx="8.250" cy="12.100" r="1.250" fill="#1a2236"/></svg>
<span class="t" style="left:1834.14px;top:622.00px;font-size:19.2px;font-weight:700;color:#fff;transform:scaleX(0.9223);-webkit-text-stroke:0.25px;">0.04%</span>
<div class="r" style="left:1530.75px;top:664.25px;width:20px;height:20px;background:transparent;border-radius:4px;border:1.6px solid #8f96ab;box-sizing:border-box;"></div>
<div class="r" style="left:1565.75px;top:666.25px;width:20.5px;height:15px;background:#22d05c;border-radius:2px;"></div>
<span class="t" style="left:1569.50px;top:669.00px;font-size:11px;font-weight:700;color:#0a401f;transform:scaleX(0.9422);-webkit-text-stroke:0.25px;">TP</span>
<span class="t" style="left:1594.88px;top:664.00px;font-size:19.2px;font-weight:400;color:#fff;transform:scaleX(0.9640);-webkit-text-stroke:0.55px;">Take Profit</span>
<div class="r" style="left:1531.25px;top:693.75px;width:352.25px;height:50px;background:#172135;border-radius:4px;"></div>
<span class="t" style="left:1540.32px;top:710.00px;font-size:19.2px;font-weight:400;color:#767c92;transform:scaleX(0.8889);-webkit-text-stroke:0.3px;">USDT</span>
<svg class="r" style="left:1857px;top:706.75px" width="12" height="8" viewBox="0 0 12 8"><path d="M1 7l5-5.500L11 7" fill="none" stroke="#2c3850" stroke-width="1.3"/></svg>
<svg class="r" style="left:1857px;top:724.5px" width="12" height="8" viewBox="0 0 12 8"><path d="M1 1l5 5.500L11 1" fill="none" stroke="#2c3850" stroke-width="1.3"/></svg>
<div class="r" style="left:1530.75px;top:764.25px;width:20px;height:20px;background:transparent;border-radius:4px;border:1.6px solid #8f96ab;box-sizing:border-box;"></div>
<div class="r" style="left:1565.75px;top:766.75px;width:20.5px;height:15px;background:#f4504f;border-radius:2px;"></div>
<span class="t" style="left:1569.81px;top:769.00px;font-size:11px;font-weight:700;color:#6b1416;transform:scaleX(0.8829);-webkit-text-stroke:0.25px;">SL</span>
<span class="t" style="left:1594.42px;top:765.00px;font-size:19.2px;font-weight:400;color:#fff;transform:scaleX(0.9629);-webkit-text-stroke:0.55px;">Stop Loss</span>
<div class="r" style="left:1531.25px;top:795px;width:352.25px;height:48px;background:#172135;border-radius:4px;"></div>
<span class="t" style="left:1540.32px;top:811.00px;font-size:19.2px;font-weight:400;color:#767c92;transform:scaleX(0.8889);-webkit-text-stroke:0.3px;">USDT</span>
<svg class="r" style="left:1857px;top:807.25px" width="12" height="8" viewBox="0 0 12 8"><path d="M1 7l5-5.500L11 7" fill="none" stroke="#2c3850" stroke-width="1.3"/></svg>
<svg class="r" style="left:1857px;top:826px" width="12" height="8" viewBox="0 0 12 8"><path d="M1 1l5 5.500L11 1" fill="none" stroke="#2c3850" stroke-width="1.3"/></svg>
<div class="r" style="left:1530.75px;top:869px;width:20px;height:20px;background:transparent;border-radius:4px;border:1.6px solid #8f96ab;box-sizing:border-box;"></div>
<div class="r" style="left:1565.75px;top:872px;width:20.5px;height:15px;background:#2aa9ea;border-radius:2px;"></div>
<span class="t" style="left:1570.57px;top:875.00px;font-size:11px;font-weight:700;color:#0c3e63;transform:scaleX(1.0347);-webkit-text-stroke:0.25px;">AI</span>
<span class="t" style="left:1593.53px;top:870.00px;font-size:19.2px;font-weight:400;color:#fff;transform:scaleX(0.9955);-webkit-text-stroke:0.55px;">Incremento automatico</span>
<svg class="r" style="left:1795.6px;top:870.85px" width="14.8" height="14.8" viewBox="0 0 16 16"><circle cx="8" cy="8" r="8" fill="#999fb4"/><path d="M5.6 6.3c0-1.4 1.1-2.3 2.5-2.3s2.4.9 2.4 2.1c0 1.9-2.2 1.9-2.2 3.6" fill="none" stroke="#1a2236" stroke-width="2.1"/><circle cx="8.250" cy="12.100" r="1.250" fill="#1a2236"/></svg>
<div class="r" style="left:1529.5px;top:908.25px;width:160.5px;height:60.5px;background:#ff5252;border-radius:5px;box-shadow:0 2px 3px rgba(0,0,0,.35);"></div>
<span class="t" style="left:1581.99px;top:921.00px;font-size:22.8px;font-weight:700;color:#271a2e;transform:scaleX(0.9389);-webkit-text-stroke:0.25px;">Vendi</span>
<span class="t" style="left:1582.09px;top:948.00px;font-size:15.3px;font-weight:400;color:#30151c;transform:scaleX(0.9957);-webkit-text-stroke:0.3px;">780.012</span>
<div class="r" style="left:1709.25px;top:908.25px;width:175.75px;height:60.5px;background:#18d95b;border-radius:5px;box-shadow:0 2px 3px rgba(0,0,0,.35);"></div>
<span class="t" style="left:1757.52px;top:921.00px;font-size:22.8px;font-weight:700;color:#0f2a26;transform:scaleX(0.9141);-webkit-text-stroke:0.25px;">Compra</span>
<span class="t" style="left:1769.59px;top:948.00px;font-size:15.3px;font-weight:400;color:#0c3a22;transform:scaleX(0.9990);-webkit-text-stroke:0.3px;">783.729</span>
</div></body></html>
